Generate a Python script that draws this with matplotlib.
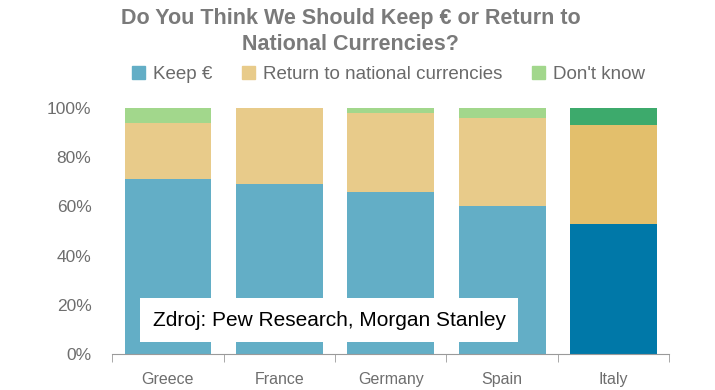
import numpy as np
import matplotlib.pyplot as plt
from matplotlib.patches import Patch

plt.rcParams['font.family'] = ['Liberation Sans', 'DejaVu Sans']

countries = ['Greece', 'France', 'Germany', 'Spain', 'Italy']
keep = [71, 69, 66, 60, 53]
return_national = [23, 31, 32, 36, 40]
dont_know = [6, 0, 2, 4, 7]

# Italy is highlighted with darker shades
keep_colors = ['#63aec6'] * 4 + ['#0078a8']
return_colors = ['#e8cb8a'] * 4 + ['#e3bf6c']
dk_colors = ['#a2d78c'] * 4 + ['#3daa6c']

fig = plt.figure(figsize=(7.15, 3.9), dpi=100)
ax = fig.add_axes([0.157, 0.092, 0.779, 0.631])

x = np.arange(len(countries))
keep_arr = np.array(keep)
ret_arr = np.array(return_national)
dk_arr = np.array(dont_know)

ax.bar(x, keep_arr, width=0.78, color=keep_colors)
ax.bar(x, ret_arr, width=0.78, bottom=keep_arr, color=return_colors)
ax.bar(x, dk_arr, width=0.78, bottom=keep_arr + ret_arr, color=dk_colors)

ax.set_xlim(-0.5, len(countries) - 0.5)
ax.set_ylim(0, 100)
ax.set_yticks(range(0, 101, 20))
ax.set_yticklabels([f'{v}%' for v in range(0, 101, 20)])
ax.tick_params(axis='y', length=0, pad=15, labelsize=12.5, labelcolor='#6e6e6e')

ax.set_xticks(x)
ax.set_xticklabels(countries)
ax.tick_params(axis='x', length=0, pad=13, labelsize=11.5, labelcolor='#6e6e6e')
ax.set_xticks(np.arange(-0.5, len(countries)), minor=True)
ax.tick_params(axis='x', which='minor', length=6, color='#9a9a9a', direction='out')

for side in ['top', 'right', 'left']:
    ax.spines[side].set_visible(False)
ax.spines['bottom'].set_color('#9a9a9a')

fig.text(0.49, 0.98, 'Do You Think We Should Keep € or Return to\nNational Currencies?',
         ha='center', va='top', fontsize=15.5, fontweight='bold', color='#7a7a7a',
         linespacing=1.3)

handles = [Patch(color='#63aec6'), Patch(color='#e8cb8a'), Patch(color='#a2d78c')]
fig.legend(handles, ['Keep €', 'Return to national currencies', "Don't know"],
           loc='center', bbox_to_anchor=(0.543, 0.81), ncol=3, frameon=False,
           fontsize=13.5, handlelength=0.7, handleheight=0.7, handletextpad=0.4,
           columnspacing=1.6, labelcolor='#6a6a6a')

ax.text(0.39, 0.138, 'Zdroj: Pew Research, Morgan Stanley', transform=ax.transAxes,
        ha='center', va='center', fontsize=15, color='black',
        bbox=dict(facecolor='white', edgecolor='none', pad=9))

fig.savefig('out.png', dpi=100)
